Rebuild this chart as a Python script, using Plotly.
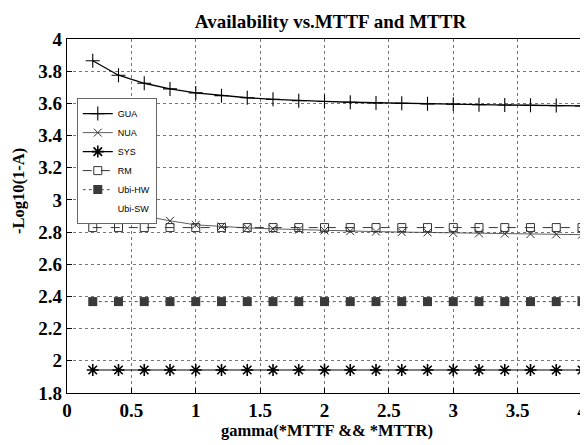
import plotly.graph_objects as go

gamma = [0.2, 0.4, 0.6, 0.8, 1.0, 1.2, 1.4, 1.6, 1.8, 2.0,
         2.2, 2.4, 2.6, 2.8, 3.0, 3.2, 3.4, 3.6, 3.8, 4.0]
gua = [3.865, 3.775, 3.725, 3.69, 3.665, 3.648, 3.635, 3.625, 3.617, 3.612,
       3.607, 3.603, 3.600, 3.597, 3.595, 3.592, 3.590, 3.588, 3.586, 3.584]
nua = [3.04, 2.95, 2.90, 2.87, 2.845, 2.835, 2.826, 2.82, 2.815, 2.81,
       2.806, 2.803, 2.80, 2.798, 2.795, 2.792, 2.79, 2.788, 2.786, 2.784]
sys_ = [1.943] * 20
rm = [2.828] * 20
ubi_hw = [2.368] * 20
ubi_sw = [2.368] * 20

xticks = [0, 0.5, 1, 1.5, 2, 2.5, 3, 3.5, 4]
xticklabels = ["0", "0.5", "1", "1.5", "2", "2.5", "3", "3.5", "4"]

FONT = "Liberation Serif"

fig = go.Figure()
fig.add_trace(go.Scatter(x=gamma, y=gua, name="GUA", mode="lines+markers",
                         line=dict(color="black", width=1.3),
                         marker=dict(symbol="cross-thin-open", size=10,
                                     line=dict(color="black", width=1.1))))
fig.add_trace(go.Scatter(x=gamma, y=nua, name="NUA", mode="lines+markers",
                         line=dict(color="#333", width=0.8),
                         marker=dict(symbol="x-thin-open", size=8,
                                     line=dict(color="#333", width=1))))
fig.add_trace(go.Scatter(x=gamma, y=sys_, name="SYS", mode="lines+markers",
                         line=dict(color="black", width=1.2),
                         marker=dict(symbol="asterisk-open", size=10,
                                     line=dict(color="black", width=1.6))))
fig.add_trace(go.Scatter(x=gamma, y=rm, name="RM", mode="lines+markers",
                         line=dict(color="#333", width=1, dash="dash"),
                         marker=dict(symbol="square-open", size=8,
                                     line=dict(color="#333", width=1))))
fig.add_trace(go.Scatter(x=gamma, y=ubi_hw, name="Ubi-HW", mode="lines+markers",
                         line=dict(color="#555", width=1, dash="dot"),
                         marker=dict(symbol="square", size=9, color="#3a3a3a",
                                     line=dict(color="#3a3a3a", width=0))))
fig.add_trace(go.Scatter(x=gamma, y=ubi_sw, name="Ubi-SW", mode="lines",
                         line=dict(color="rgba(0,0,0,0)", width=1, dash="dot")))

grid = dict(showgrid=True, gridcolor="#777", griddash="dot", gridwidth=1,
            showline=True, linecolor="black", linewidth=1.2, mirror=True,
            ticks="inside", ticklen=5, tickcolor="black", zeroline=False,
            automargin=False, ticklabeloverflow="allow",
            tickfont=dict(family=FONT, size=19, color="black", weight="bold"))

fig.update_layout(
    width=580, height=437,
    margin=dict(l=59, r=6, t=31, b=52),
    paper_bgcolor="white", plot_bgcolor="white",
    title=dict(text="<b>Availability vs.MTTF and MTTR</b>",
               font=dict(family=FONT, size=19, color="black"),
               x=322.5 / 580, xanchor="center", y=1 - 13 / 437, yanchor="middle"),
    xaxis=dict(range=[0, 4], tickvals=xticks, ticktext=xticklabels, **grid),
    yaxis=dict(range=[1.8, 4], dtick=0.2, **grid),
    legend=dict(x=0.019, y=0.833, xanchor="left", yanchor="top",
                bgcolor="white", bordercolor="#666", borderwidth=1,
                font=dict(family="Liberation Sans", size=9, color="black"),
                tracegroupgap=0, itemwidth=30),
    showlegend=True,
    annotations=[
        dict(text="<b>gamma(*MTTF && *MTTR)</b>", xref="paper", yref="paper",
             x=0.505, y=-37 / 354, xanchor="center", yanchor="middle",
             showarrow=False, font=dict(family=FONT, size=16.5, color="black")),
        dict(text="<b>-Log10(1-A)</b>", xref="paper", yref="paper",
             x=-49 / 515, y=(393 - 191) / 354, xanchor="center", yanchor="middle",
             textangle=-90, showarrow=False,
             font=dict(family=FONT, size=16.5, color="black")),
    ],
)

fig.write_html("out.html")
